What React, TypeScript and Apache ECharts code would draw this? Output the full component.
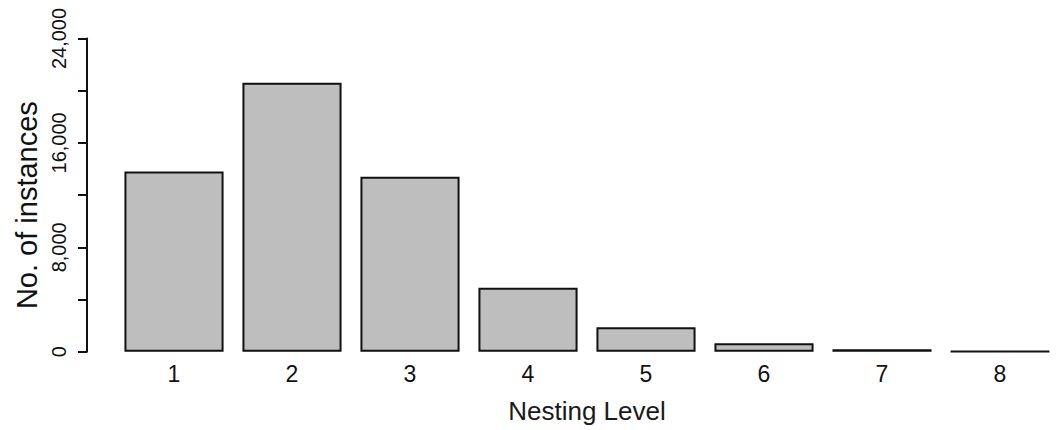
import React, { useEffect, useRef } from "react";
import * as echarts from "echarts";

const categories = ["1", "2", "3", "4", "5", "6", "7", "8"];
const instances = [13800, 20600, 13400, 4900, 1870, 640, 180, 20];
const yMax = 24000;
const yStep = 4000;
const yLabelStep = 8000;

const FONT = "'Liberation Sans', Arial, Helvetica, sans-serif";

export default function App() {
  const ref = useRef<HTMLDivElement>(null);
  useEffect(() => {
    if (!ref.current) return;
    const chart = echarts.init(ref.current, undefined, { renderer: "svg" });
    chart.setOption({
      animation: false,
      backgroundColor: "#ffffff",
      grid: { left: 115, top: 38.5, width: 947, bottom: 78.3, containLabel: false },
      xAxis: {
        type: "category",
        data: categories,
        axisLine: { show: false },
        axisTick: { show: false },
        axisLabel: { color: "#111", fontSize: 23, fontFamily: FONT, margin: 11 },
        name: "Nesting Level",
        nameLocation: "middle",
        nameGap: 46,
        nameTextStyle: { color: "#1a1a1a", fontSize: 26, fontFamily: FONT },
      },
      yAxis: {
        type: "value",
        min: 0,
        max: yMax,
        interval: yStep,
        offset: 28,
        splitLine: { show: false },
        axisLine: { show: true, lineStyle: { color: "#111", width: 2 } },
        axisTick: { show: true, length: 9, lineStyle: { color: "#111", width: 2 } },
        axisLabel: {
          color: "#111",
          fontSize: 20,
          fontFamily: FONT,
          rotate: 90,
          margin: 18,
          formatter: (v: number) => (v % yLabelStep === 0 ? v.toLocaleString("en-US") : ""),
        },
        name: "No. of instances",
        nameLocation: "middle",
        nameRotate: 90,
        nameGap: 43,
        nameTextStyle: { color: "#111", fontSize: 29, fontFamily: FONT, padding: [0, 20, 0, 0] },
      },
      series: [
        {
          type: "bar",
          data: instances,
          barCategoryGap: "16%",
          itemStyle: { color: "#bebebe", borderColor: "#111", borderWidth: 2 },
        },
      ],
    });
    return () => chart.dispose();
  }, []);
  return (
    <div
      ref={ref}
      style={{ position: "fixed", left: 0, top: 0, width: 1059, height: 430 }}
    />
  );
}
